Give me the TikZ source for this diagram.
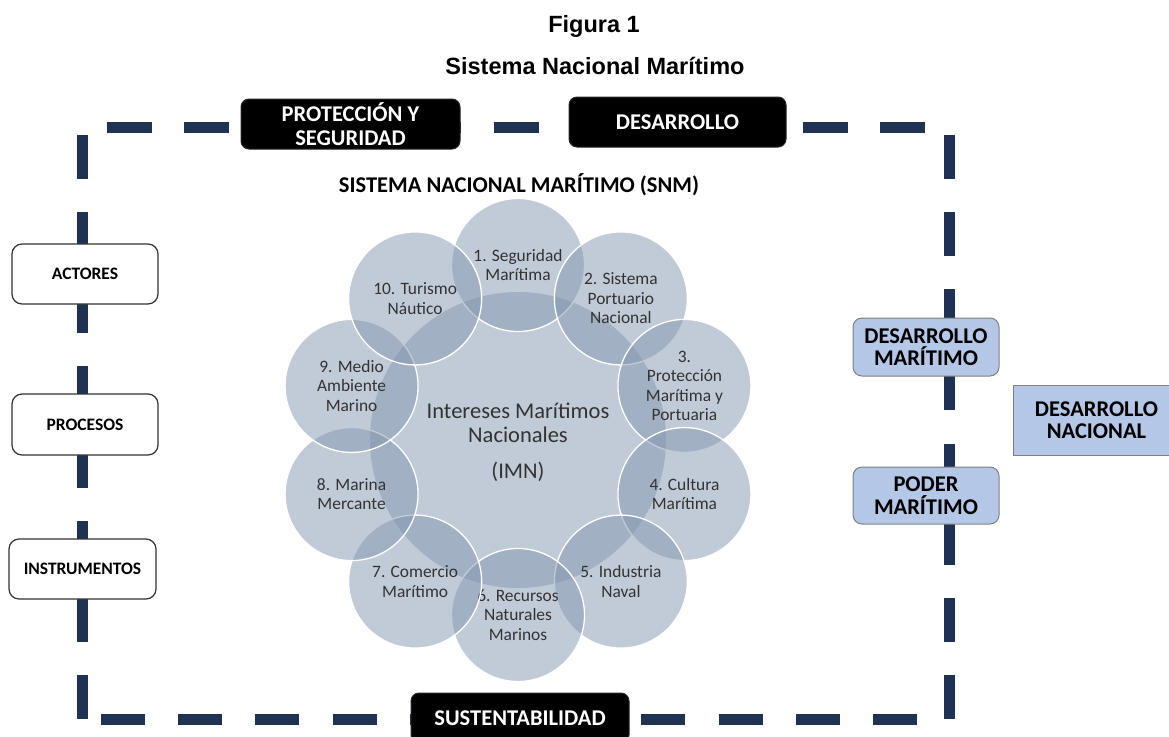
\documentclass[tikz,border=0pt]{standalone}
\usepackage{fontspec}
\setmainfont{Carlito}
\newfontfamily\arialfont{Liberation Sans}
\definecolor{navy}{HTML}{1F3254}
\definecolor{boxblue}{HTML}{B4C7E7}
\definecolor{circfill}{HTML}{8497B0}
\tikzset{
  frameline/.style={draw=navy, line width=11pt, line cap=butt},
  blackbox/.style={draw=black!85, line width=1pt, fill=black, rounded corners=8pt, text=white,
    font=\bfseries\fontsize{22.5}{23.5}\selectfont, align=center, inner sep=0pt,
    minimum width=218pt, minimum height=50pt},
  whitebox/.style={draw=black!80, line width=1.2pt, fill=white, rounded corners=10pt,
    font=\bfseries\fontsize{17.5}{20}\selectfont, inner sep=0pt, minimum width=146pt, minimum height=60pt},
  bluebox/.style={draw=black!50, line width=1pt, fill=boxblue, rounded corners=9pt,
    font=\bfseries\fontsize{22.5}{22.5}\selectfont, align=center, inner sep=0pt,
    minimum width=146pt, minimum height=58pt},
  sat/.style={circle, minimum size=133pt, inner sep=0pt, fill=circfill, fill opacity=0.5,
    draw=white, draw opacity=1, line width=1.3pt, text opacity=1, text=black!80,
    font=\fontsize{17.4}{19.6}\selectfont, align=center},
  hub/.style={circle, minimum size=296pt, inner sep=0pt, fill=circfill, fill opacity=0.5,
    text opacity=1, text=black!80, font=\fontsize{22.5}{24}\selectfont, align=center}
}
\begin{document}
\begin{tikzpicture}[x=1pt,y=-1pt]
\useasboundingbox (0,0) rectangle (1169,736);
\clip (0,0) rectangle (1169,736);
\fill[white] (0,0) rectangle (1169,736);

% titles
\node[anchor=base, font=\arialfont\bfseries\fontsize{23.5}{28}\selectfont, inner sep=0pt] (fig) at (594,32) {Figura 1};
\node[anchor=base, font=\arialfont\bfseries\fontsize{23.5}{28}\selectfont, inner sep=0pt] (tit) at (595,74) {Sistema Nacional Marítimo};

% dashed frame
\coordinate (t1) at (107,127);   \coordinate (t2) at (925,127);
\coordinate (l1) at (82.5,135);  \coordinate (l2) at (82.5,719);
\coordinate (b1) at (101,719.5); \coordinate (b2) at (917,719.5);
\coordinate (r1) at (949.5,135); \coordinate (r2) at (949.5,719);
\draw[frameline, dash pattern=on 45pt off 32.3pt] (t1) -- (t2);
\draw[frameline, dash pattern=on 44pt off 33.14pt] (l1) -- (l2);
\draw[frameline, dash pattern=on 44pt off 33.2pt] (b1) -- (b2);
\draw[frameline, dash pattern=on 44pt off 33.14pt] (r1) -- (r2);

% black boxes
\node[blackbox, minimum width=219pt] (prot) at (350.5,124) {PROTECCIÓN Y\\SEGURIDAD};
\node[blackbox, minimum width=217pt] (des) at (677.5,122) {DESARROLLO};
\node[blackbox, minimum width=218pt] (sus) at (520,718) {SUSTENTABILIDAD};

% left boxes
\node[whitebox] (act) at (85,274) {ACTORES};
\node[whitebox, minimum height=61pt] (pro) at (85,424.5) {PROCESOS};
\node[whitebox, minimum width=147pt] (ins) at (82.5,569) {INSTRUMENTOS};

% right boxes
\node[bluebox] (dmar) at (926,347) {DESARROLLO\\MARÍTIMO};
\node[bluebox, minimum height=57pt] (pmar) at (926,495.5) {PODER\\MARÍTIMO};
\node[bluebox, rounded corners=0pt, minimum width=167pt, minimum height=70pt] (dnac) at (1096.5,420) {DESARROLLO\\NACIONAL};

% SNM heading
\node[anchor=base, font=\bfseries\fontsize{22.5}{24}\selectfont, inner sep=0pt] (snm) at (519,192) {SISTEMA NACIONAL MARÍTIMO (SNM)};

% radial diagram
\node[hub] (imn) at (518,440) {};
\node[sat] (c1)  at ({518+175*cos(90)},{440-175*sin(90)}) {1. Seguridad\\Marítima};
\node[sat] (c2)  at ({518+175*cos(54)},{440-175*sin(54)}) {2. Sistema\\Portuario\\Nacional};
\node[sat] (c3)  at ({518+175*cos(18)},{440-175*sin(18)}) {3.\\Protección\\Marítima y\\Portuaria};
\node[sat] (c4)  at ({518+175*cos(-18)},{440-175*sin(-18)}) {4. Cultura\\Marítima};
\node[sat] (c5)  at ({518+175*cos(-54)},{440-175*sin(-54)}) {5. Industria\\Naval};
\node[sat] (c6)  at ({518+175*cos(-90)},{440-175*sin(-90)}) {6. Recursos\\Naturales\\Marinos};
\node[sat] (c7)  at ({518+175*cos(-126)},{440-175*sin(-126)}) {7. Comercio\\Marítimo};
\node[sat] (c8)  at ({518+175*cos(-162)},{440-175*sin(-162)}) {8. Marina\\Mercante};
\node[sat] (c9)  at ({518+175*cos(162)},{440-175*sin(162)}) {9. Medio\\Ambiente\\Marino};
\node[sat] (c10) at ({518+175*cos(126)},{440-175*sin(126)}) {10. Turismo\\Náutico};
\node[text=black!80, font=\fontsize{22.5}{24}\selectfont, align=center, inner sep=0pt] (imntxt) at (518,442) {Intereses Marítimos\\Nacionales\\[12pt](IMN)};
\end{tikzpicture}
\end{document}
